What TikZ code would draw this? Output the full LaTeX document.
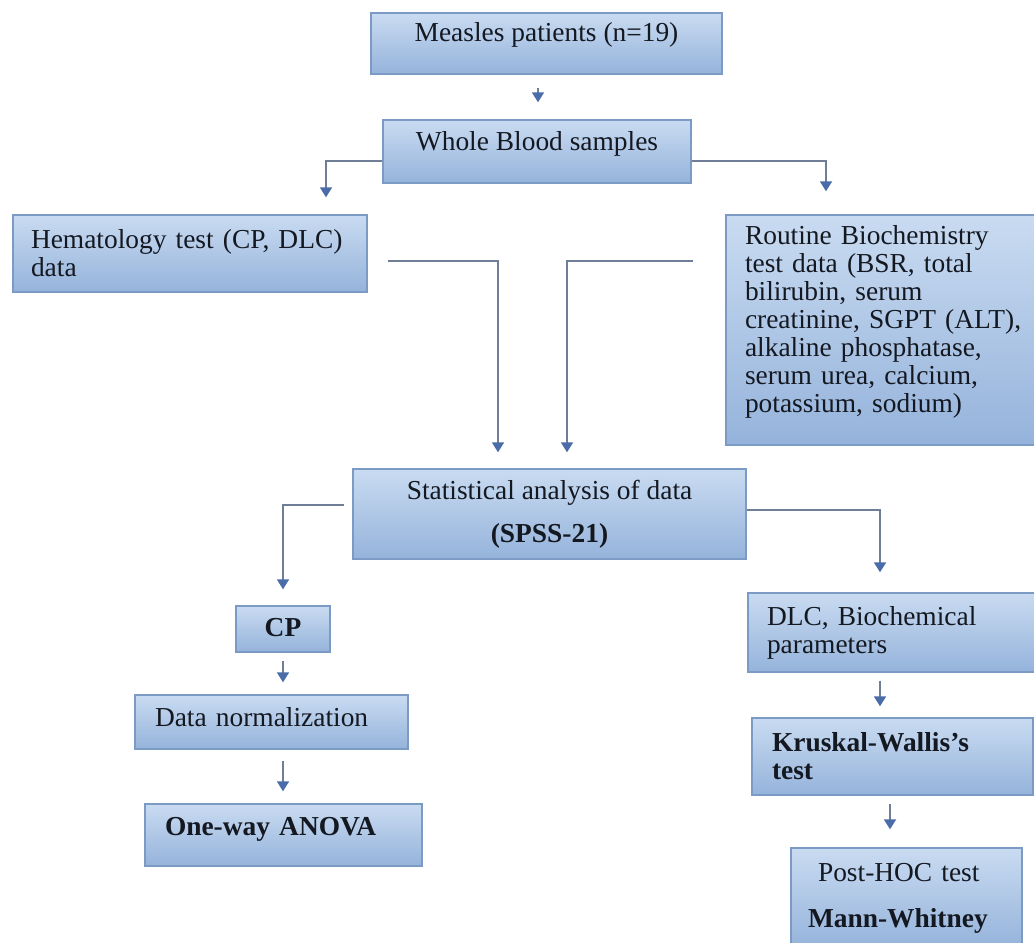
\documentclass[tikz,border=0pt]{standalone}
\usepackage{fontspec}
\setmainfont{Liberation Serif}
\usetikzlibrary{arrows.meta, calc}
\definecolor{boxtop}{HTML}{C9DBF1}
\definecolor{boxbot}{HTML}{95B3DB}
\definecolor{boxborder}{HTML}{7B9BC5}
\definecolor{linecol}{HTML}{6F7E96}
\definecolor{tipcol}{HTML}{4A6CA8}
\definecolor{txtcol}{HTML}{141821}
\newcommand{\boxfont}{\fontsize{15.6pt}{15.9pt}\selectfont}

\begin{document}
\begin{tikzpicture}[
    box/.style={draw=boxborder, line width=0.8pt, top color=boxtop,
        bottom color=boxbot, font=\boxfont, text=txtcol, inner ysep=0pt},
    arr/.style={-{Triangle[width=0.24cm, length=0.2cm, color=tipcol]},
        draw=linecol, line width=1pt},
]
\useasboundingbox[fill=white] (0,0) rectangle (20.68,-18.84);

% --- Top: patients and samples ---
\node[box, align=center, minimum width=7.02cm, minimum height=1.22cm,
    text height=0.40cm, text depth=0.48cm]
    (measles) at (10.93,-0.87) {Measles patients (n=19)};
\node[box, align=center, minimum width=6.16cm, minimum height=1.26cm,
    text height=0.40cm, text depth=0.46cm]
    (blood) at (10.74,-3.03) {Whole Blood samples};

% --- Test data ---
\node[box, align=left, inner xsep=0.36cm, text width=6.36cm,
    minimum height=1.54cm]
    (hemat) at (3.80,-5.07) {Hematology test (CP, DLC)\\data};
\node[box, align=left, inner xsep=0.38cm, text width=5.60cm,
    minimum height=4.60cm]
    (routine) at (17.70,-6.60) {Routine Biochemistry\\test data (BSR, total\\
    bilirubin, serum\\creatinine, SGPT (ALT),\\alkaline phosphatase,\\
    serum urea, calcium,\\potassium, sodium)\rule[-0.44cm]{0pt}{0pt}};

% --- Analysis ---
\node[box, align=center, minimum width=7.86cm, minimum height=1.80cm]
    (stats) at (10.99,-10.28)
    {Statistical analysis of data\\[0.30cm]\textbf{(SPSS-21)}};

% left branch
\node[box, minimum width=1.88cm, minimum height=0.92cm,
    text height=0.40cm, text depth=0.12cm]
    (cp) at (5.66,-12.58) {\textbf{CP}};
\node[box, align=left, inner xsep=0.40cm, text width=4.66cm,
    minimum height=1.08cm, text height=0.40cm, text depth=0.24cm]
    (norm) at (5.43,-14.44) {Data normalization};
\node[box, align=left, inner xsep=0.40cm, text width=4.74cm,
    minimum height=1.24cm, text height=0.40cm, text depth=0.40cm]
    (anova) at (5.67,-16.70) {\textbf{One-way ANOVA}};

% right branch
\node[box, align=left, inner xsep=0.38cm, text width=5.16cm,
    minimum height=1.58cm]
    (dlc) at (17.92,-12.65) {DLC, Biochemical\\parameters};
\node[box, align=left, inner xsep=0.40cm, text width=4.82cm,
    minimum height=1.54cm]
    (kruskal) at (17.85,-15.13) {\textbf{Kruskal-Wallis’s}\\\textbf{test}};
\node[box, align=left, inner xsep=0.34cm, text width=3.94cm,
    minimum height=2.00cm]
    (posthoc) at (18.13,-17.96)
    {\hspace*{0.2cm}Post-HOC test\\[0.36cm]\textbf{Mann-Whitney}};

% --- Connectors ---
\draw[arr] ($(blood.north |- measles.south)+(0.02,-0.26)$)
    -- ($(blood.north)+(0.02,0.34)$);
\draw[arr] ($(blood.west)+(0,-0.19)$) -| ($(hemat.north)+(2.72,0.34)$);
\draw[arr] ($(blood.east)+(0,-0.19)$) -| ($(routine.north)+(-1.18,0.46)$);
\draw[arr] ($(hemat.north east)+(0.40,-0.94)$) -| ($(stats.north)+(-1.03,0.32)$);
\draw[arr] ($(routine.north west)+(-0.64,-0.94)$) -| ($(stats.north)+(0.35,0.32)$);
\draw[arr] ($(stats.north west)+(-0.16,-0.74)$) -| ($(cp.north)+(0,0.32)$);
\draw[arr] ($(stats.north east)+(0,-0.84)$) -| ($(dlc.north)+(-0.32,0.40)$);
\draw[arr] ($(cp.south)+(0,-0.16)$) -- ($(cp.south |- norm.north)+(0,0.24)$);
\draw[arr] ($(cp.south |- norm.south)+(0,-0.22)$)
    -- ($(cp.south |- anova.north)+(0,0.24)$);
\draw[arr] ($(dlc.south)+(-0.32,-0.16)$)
    -- ($(dlc.south |- kruskal.north)+(-0.32,0.22)$);
\draw[arr] ($(kruskal.south)+(-0.05,-0.16)$)
    -- ($(kruskal.south |- posthoc.north)+(-0.05,0.36)$);

\end{tikzpicture}
\end{document}
